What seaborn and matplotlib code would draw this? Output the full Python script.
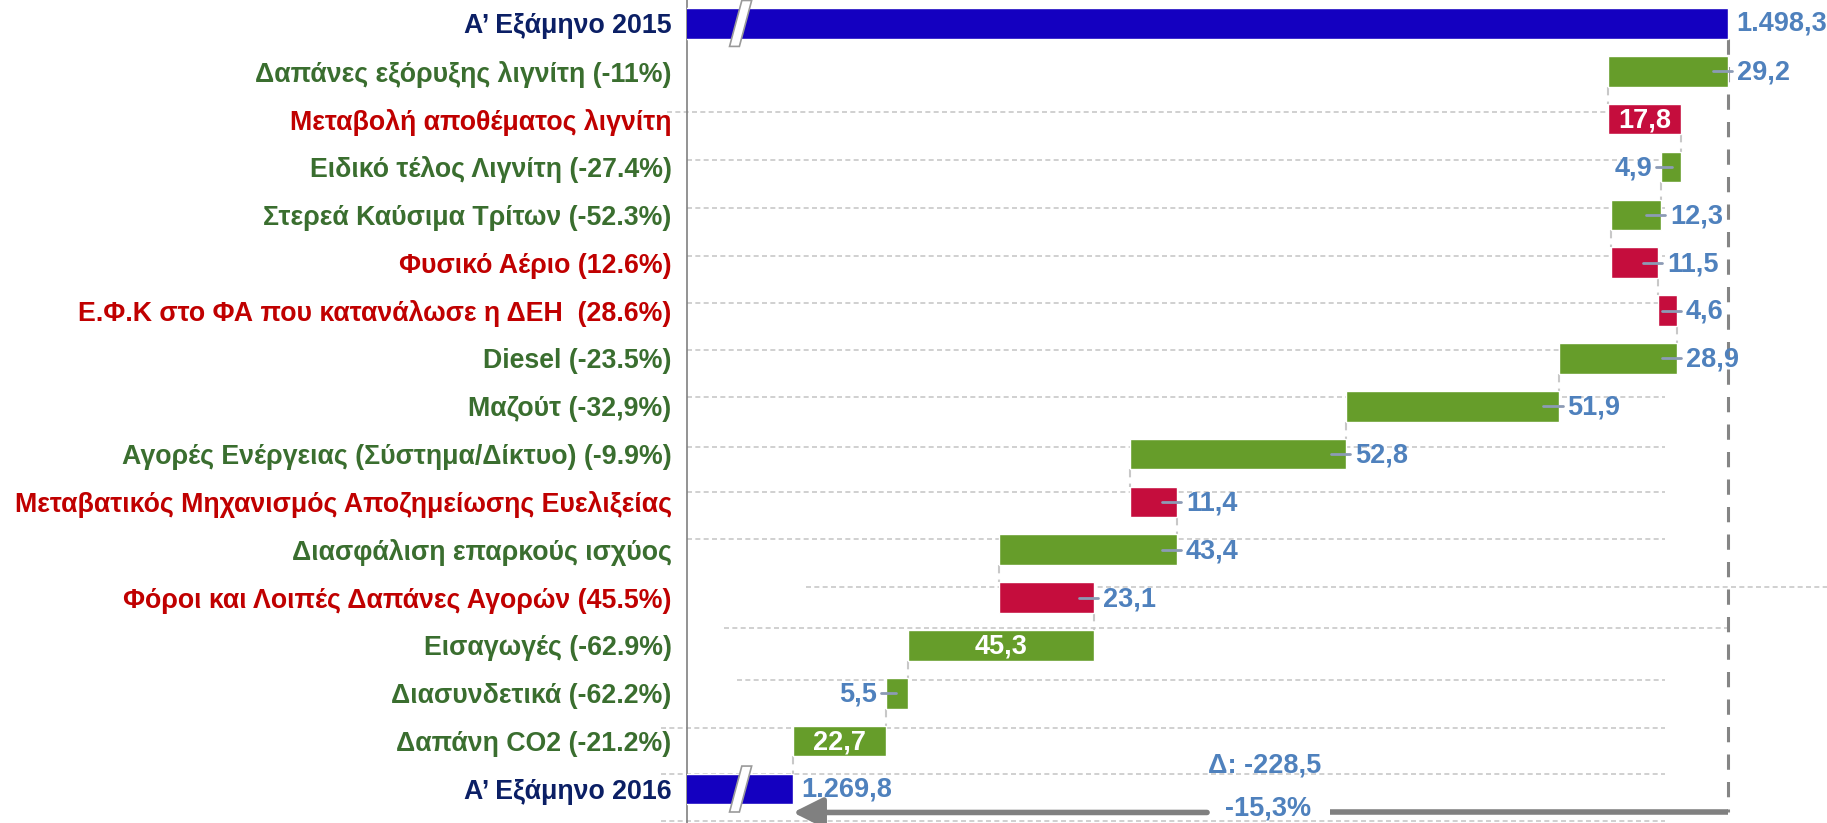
import numpy as np
import pandas as pd
import matplotlib.pyplot as plt
import seaborn as sns
from matplotlib.patches import Polygon

# --- data ---
labels = [
    "Α’ Εξάμηνο 2015",
    "Δαπάνες εξόρυξης λιγνίτη (-11%)",
    "Μεταβολή αποθέματος λιγνίτη",
    "Ειδικό τέλος Λιγνίτη (-27.4%)",
    "Στερεά Καύσιμα Τρίτων (-52.3%)",
    "Φυσικό Αέριο (12.6%)",
    "Ε.Φ.Κ στο ΦΑ που κατανάλωσε η ΔΕΗ  (28.6%)",
    "Diesel (-23.5%)",
    "Μαζούτ (-32,9%)",
    "Αγορές Ενέργειας (Σύστημα/Δίκτυο) (-9.9%)",
    "Μεταβατικός Μηχανισμός Αποζημείωσης Ευελιξείας",
    "Διασφάλιση επαρκούς ισχύος",
    "Φόροι και Λοιπές Δαπάνες Αγορών (45.5%)",
    "Εισαγωγές (-62.9%)",
    "Διασυνδετικά (-62.2%)",
    "Δαπάνη CO2 (-21.2%)",
    "Α’ Εξάμηνο 2016",
]
start_total = 1498.3
end_total = 1269.8
changes = [-29.2, 17.8, -4.9, -12.3, 11.5, 4.6, -28.9, -51.9, -52.8,
           11.4, -43.4, 23.1, -45.3, -5.5, -22.7]
# where the value label sits: r = right of bar, l = left of bar, in = inside
label_pos = ["r", "in", "l", "r", "r", "r", "r", "r", "r",
             "r", "r", "r", "in", "l", "in"]
delta_text = "Δ: -228,5"
pct_text = "-15,3%"

BLUE = "#1400c0"
GREEN = "#669d2a"
RED = "#c50d3d"
NAVY = "#0b1f65"
LBL_GREEN = "#3a6e2f"
LBL_RED = "#c00000"
VAL = "#4f81bd"
GRID = "#c8c8c8"


def fmt(v):
    s = f"{abs(v):,.1f}"
    return s.replace(",", "X").replace(".", ",").replace("X", ".")


sns.set_style("white")
plt.rcParams["font.family"] = ["Liberation Sans", "DejaVu Sans"]

fig = plt.figure(figsize=(18.27, 8.23), dpi=100)
ax = fig.add_axes([687 / 1827, 0, 1 - 687 / 1827, 1])

bar_h = 0.64

# totals through seaborn (start at 0, cut by the axis break)
tot = pd.DataFrame({"label": [labels[0], labels[-1]],
                    "value": [start_total, end_total]})
sns.barplot(data=tot, y="label", x="value", order=labels, color=BLUE,
            saturation=1, width=bar_h, ax=ax, zorder=3)

# floating bars
cum = [start_total]
for c in changes:
    cum.append(cum[-1] + c)
for i, c in enumerate(changes):
    y = i + 1
    left = min(cum[i], cum[i + 1])
    ax.barh(y, abs(c), left=left, height=bar_h,
            color=GREEN if c < 0 else RED, zorder=3)

xmin, xmax = 1243.9, 1522.5
ax.set_xlim(xmin, xmax)
ax.set_ylim(16.71, -0.49)

# gridlines (dashed, slightly above the bar centres)
grid_rows = [(1.85, 1239, 1483), (2.85, xmin, 1483), (3.86, xmin, 1483),
             (4.86, xmin, 1483), (5.85, xmin, 1483), (6.83, xmin, 1483),
             (7.81, xmin, 1483), (8.85, xmin, 1483), (9.79, xmin, 1483),
             (10.78, xmin, 1483), (11.78, 1273, xmax), (12.64, 1253, 1498.3),
             (13.72, 1256, 1483), (14.73, 1237.5, 1483), (15.69, 1237.5, 1483),
             (16.67, 1237.5, 1483)]
for gy, x0, x1 in grid_rows:
    ax.plot([x0, x1], [gy, gy], color=GRID, lw=1.2, ls=(0, (3, 2)),
            zorder=1, clip_on=False)

# connectors between bars
half = bar_h / 2
for i in range(1, len(cum)):
    x = cum[i]
    ax.plot([x, x], [i + half, i + 1 - half], color=GRID, lw=1.5,
            ls=(0, (4, 3)), zorder=2)

# dark dashed reference at the starting total
ax.plot([start_total, start_total], [0.32, 16.49], color="#858585", lw=2.2,
        ls=(0, (5, 4)), zorder=2)

# value labels
fs_val = 19.5
ax.text(start_total + 2, 0, fmt(start_total), color=VAL, fontsize=fs_val,
        fontweight="bold", va="center", ha="left", clip_on=False)
ax.text(end_total + 2, 16, fmt(end_total), color=VAL, fontsize=fs_val,
        fontweight="bold", va="center", ha="left")
for i, c in enumerate(changes):
    y = i + 1
    lo, hi = min(cum[i], cum[i + 1]), max(cum[i], cum[i + 1])
    pos = label_pos[i]
    if pos == "in":
        ax.text((lo + hi) / 2, y + 0.03, fmt(c), color="white",
                fontsize=fs_val, fontweight="bold", ha="center", va="center",
                zorder=4)
    elif pos == "r":
        ax.plot([hi - 3.7, hi + 1.0], [y, y], color="#8c9bb5", lw=2, zorder=4)
        ax.text(hi + 2.2, y + 0.03, fmt(c), color=VAL, fontsize=fs_val,
                fontweight="bold", ha="left", va="center", zorder=4)
    else:
        ax.plot([lo - 1.3, lo + 2.5], [y, y], color="#8c9bb5", lw=2, zorder=4)
        ax.text(lo - 2.2, y + 0.03, fmt(c), color=VAL, fontsize=fs_val,
                fontweight="bold", ha="right", va="center", zorder=4)

# axis break marks on the total bars
for y in (0, 16):
    bx = 1254.3
    poly = Polygon([[bx, y + 0.48], [bx + 2.4, y + 0.48],
                    [bx + 5.4, y - 0.48], [bx + 3.0, y - 0.48]],
                   closed=True, facecolor="white", edgecolor="#9a9a9a",
                   lw=1.2, zorder=5)
    ax.add_patch(poly)

# total change arrow
ax.annotate("", xy=(end_total, 16.49), xytext=(1371, 16.49),
            arrowprops=dict(arrowstyle="-|>,head_length=0.9,head_width=0.45",
                            lw=4, color="#808080", shrinkA=0, shrinkB=0,
                            mutation_scale=20), zorder=3)
ax.plot([1401, start_total], [16.49, 16.49], color="#808080", lw=4,
        solid_capstyle="butt", zorder=3)
ax.text(1385, 15.5, delta_text, color=VAL, fontsize=fs_val, fontweight="bold",
        ha="center", va="center")
ax.text(1386, 16.4, pct_text, color=VAL, fontsize=fs_val, fontweight="bold",
        ha="center", va="center", clip_on=False)

# axes styling
for s in ["top", "right", "bottom"]:
    ax.spines[s].set_visible(False)
ax.spines["left"].set_color("#808080")
ax.spines["left"].set_linewidth(1.2)
ax.set_xticks([])
ax.set_xlabel("")
ax.set_ylabel("")
ax.set_yticks(range(len(labels)))
ax.set_yticklabels(labels)
ax.tick_params(axis="y", length=0, pad=11)
for i, t in enumerate(ax.get_yticklabels()):
    t.set_fontsize(19.3)
    t.set_fontweight("bold")
    if i == 0 or i == len(labels) - 1:
        t.set_color(NAVY)
    elif changes[i - 1] < 0:
        t.set_color(LBL_GREEN)
    else:
        t.set_color(LBL_RED)

fig.savefig("out.png", dpi=100)
